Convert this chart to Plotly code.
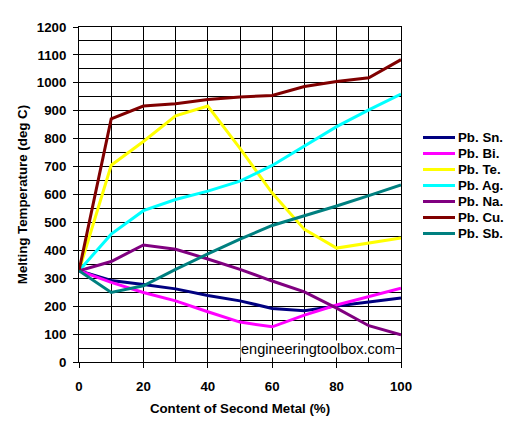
import plotly.graph_objects as go

content = [0, 10, 20, 30, 40, 50, 60, 70, 80, 90, 100]

pb_sn = [327, 292, 278, 262, 238, 219, 192, 184, 201, 215, 229]
pb_bi = [327, 285, 249, 219, 180, 143, 126, 168, 204, 234, 264]
pb_te = [327, 705, 790, 882, 917, 765, 605, 475, 408, 425, 444]
pb_ag = [327, 458, 542, 582, 612, 648, 704, 772, 843, 903, 960]
pb_na = [327, 360, 419, 404, 369, 332, 290, 251, 193, 130, 97]
pb_cu = [327, 871, 917, 925, 940, 949, 955, 987, 1005, 1018, 1083]
pb_sb = [327, 249, 273, 332, 387, 440, 489, 523, 559, 596, 634]

names = ["Pb. Sn.", "Pb. Bi.", "Pb. Te.", "Pb. Ag.", "Pb. Na.", "Pb. Cu.", "Pb. Sb."]
series = [pb_sn, pb_bi, pb_te, pb_ag, pb_na, pb_cu, pb_sb]
colors = ["#000080", "#FF00FF", "#FFFF00", "#00FFFF", "#800080", "#800000", "#008080"]

x_ticks = [0, 20, 40, 60, 80, 100]
y_ticks = list(range(0, 1201, 100))

FONT = "Liberation Sans, Arial, sans-serif"
FS = 13.3

W, H = 520, 434
ML, MR, MT, MB = 79, 119, 27, 72
PW, PH = W - ML - MR, H - MT - MB

fig = go.Figure()
for name, vals, col in zip(names, series, colors):
    fig.add_trace(go.Scatter(x=content, y=vals, name=name, mode="lines",
                             line=dict(color=col, width=3), showlegend=False))

# manual legend (compact spacing like the original)
leg_x0, leg_x1, leg_tx = 423, 455, 456
leg_y0, leg_dy = 137.5, 16
for i, (name, col) in enumerate(zip(names, colors)):
    ypx = leg_y0 + i * leg_dy
    yp = (H - MB - ypx) / PH
    fig.add_shape(type="line", xref="paper", yref="paper",
                  x0=(leg_x0 - ML) / PW, x1=(leg_x1 - ML) / PW, y0=yp, y1=yp,
                  line=dict(color=col, width=3))
    fig.add_annotation(xref="paper", yref="paper", x=(leg_tx - ML) / PW, y=yp,
                       xanchor="left", yanchor="middle", text=name, showarrow=False,
                       font=dict(family=FONT, size=FS, color="black", weight="bold"))

fig.update_layout(
    width=W, height=H,
    margin=dict(l=ML, r=MR, t=MT, b=MB),
    paper_bgcolor="white", plot_bgcolor="white",
    showlegend=False,
    font=dict(family=FONT, color="black"),
)

fig.update_xaxes(
    range=[0, 100], tickvals=x_ticks, ticktext=[str(v) for v in x_ticks],
    ticks="outside", ticklen=5, tickcolor="black", tickwidth=1,
    ticklabelstandoff=7,
    showline=True, linecolor="black", linewidth=1, mirror=True,
    showgrid=True, gridcolor="black", gridwidth=1,
    minor=dict(dtick=10, showgrid=True, gridcolor="black", gridwidth=1, ticks=""),
    tickfont=dict(family=FONT, size=FS, color="black", weight="bold"),
    title=dict(text="Content of Second Metal (%)", standoff=10,
               font=dict(family=FONT, size=FS, color="black", weight="bold")),
    zeroline=False,
)
fig.update_yaxes(
    range=[0, 1200], tickvals=y_ticks, ticktext=[str(v) for v in y_ticks],
    ticks="outside", ticklen=5, tickcolor="black", tickwidth=1,
    ticklabelstandoff=4,
    showline=True, linecolor="black", linewidth=1, mirror=True,
    showgrid=True, gridcolor="black", gridwidth=1,
    minor=dict(dtick=50, showgrid=True, gridcolor="black", gridwidth=1, ticks=""),
    tickfont=dict(family=FONT, size=FS, color="black", weight="bold"),
    title=dict(text="Melting Temperature (deg C)", standoff=6,
               font=dict(family=FONT, size=FS, color="black", weight="bold")),
    zeroline=False,
)

fig.add_annotation(
    x=98.4, y=45, xref="x", yref="y", xanchor="right", yanchor="middle",
    text="engineeringtoolbox.com", showarrow=False,
    font=dict(family=FONT, size=14.5, color="black"),
    bgcolor="white", borderpad=0,
)

fig.write_html("out.html")
